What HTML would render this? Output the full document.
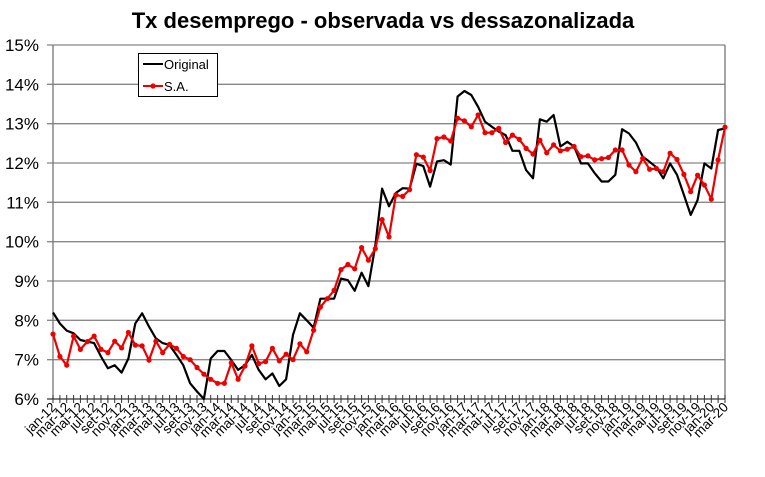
<!DOCTYPE html>
<html><head><meta charset="utf-8"><style>
html,body{margin:0;padding:0;background:#fff;}
svg{display:block;font-family:"Liberation Sans",Arial,sans-serif;}
</style></head><body>
<svg id="c" width="765" height="477" xmlns="http://www.w3.org/2000/svg"></svg>
<script>
var B=[8.2,7.92,7.74,7.67,7.5,7.46,7.42,7.08,6.78,6.86,6.67,7.03,7.92,8.18,7.84,7.54,7.42,7.37,7.12,6.86,
6.4,6.19,6.0,7.03,7.22,7.22,6.99,6.74,6.86,7.12,6.74,6.5,6.65,6.33,6.5,7.63,8.18,8.0,
7.81,
8.55,8.55,8.55,9.06,9.02,8.75,9.21,8.87,9.9,11.35,10.9,11.24,11.36,11.35,11.98,11.92,11.4,12.04,12.07,11.96,
13.69,13.83,13.73,13.43,13.05,12.92,12.8,12.71,12.31,12.31,11.82,11.61,13.11,13.05,13.22,12.42,12.54,12.42,11.99,11.99,11.74,11.53,11.53,11.7,12.86,12.75,12.52,12.16,12.03,11.89,11.61,11.99,11.7,11.19,10.68,11.06,11.99,11.86,12.84,12.88];
var R=[7.65,7.08,6.86,7.6,7.26,7.46,7.6,7.26,7.18,7.47,7.3,7.69,7.37,7.35,6.99,7.47,7.18,7.39,7.29,7.08,
7.0,6.8,6.63,6.5,6.4,6.4,6.92,6.5,6.84,7.35,6.9,6.95,7.29,6.97,7.14,7.0,
7.4,7.2,7.75,
8.34,8.55,8.76,9.29,9.42,9.31,9.85,9.53,9.82,10.56,10.12,11.19,11.15,11.32,12.21,12.15,11.81,12.62,12.66,12.56,
13.14,13.07,12.92,13.22,12.77,12.77,12.88,12.52,12.71,12.6,12.37,12.23,12.58,12.26,12.46,12.31,12.35,12.42,12.16,12.18,12.08,12.11,12.14,12.33,12.33,11.95,11.78,12.12,11.84,11.86,11.78,12.25,12.09,11.71,11.27,11.69,11.44,11.08,12.08,12.91];
var L=53,Rr=725,T=45,Bt=399,st=(Rr-L)/98;
function X(i){return L+st*i;}
function Y(v){return Bt-(v-6)*(Bt-T)/9;}
var s='';
s+='<text x="383" y="28" text-anchor="middle" font-size="22" font-weight="bold">Tx desemprego - observada vs dessazonalizada</text>';
for(var v=6;v<=15;v++){var y=Y(v).toFixed(1);
 if(v>6)s+='<line x1="'+(L-6)+'" y1="'+y+'" x2="'+Rr+'" y2="'+y+'" stroke="#888" stroke-width="1.3"/>';
 s+='<text x="39" y="'+(Y(v)+6)+'" text-anchor="end" font-size="17">'+v+'%</text>';}
s+='<line x1="'+L+'" y1="'+T+'" x2="'+L+'" y2="'+Bt+'" stroke="#777" stroke-width="1.3"/>';
s+='<line x1="'+Rr+'" y1="'+T+'" x2="'+Rr+'" y2="'+Bt+'" stroke="#777" stroke-width="1.3"/>';
s+='<line x1="'+(L-6)+'" y1="'+Bt+'" x2="'+Rr+'" y2="'+Bt+'" stroke="#333" stroke-width="1.3"/>';
var mn=['jan','mar','mai','jul','set','nov'];
for(var i=0;i<99;i++){var x=X(i).toFixed(1);
 s+='<line x1="'+x+'" y1="'+(Bt-4)+'" x2="'+x+'" y2="'+(Bt+4)+'" stroke="#333" stroke-width="1"/>';
 if(i%2==0){var yr=12+Math.floor(i/12),m=mn[(i%12)/2];
  s+='<text transform="translate('+(X(i)+4)+','+(Bt+9)+') rotate(-45)" text-anchor="end" font-size="13.5">'+m+'-'+yr+'</text>';}}
function pl(a){return a.map(function(v,i){return X(i).toFixed(1)+','+Y(v).toFixed(1);}).join(' ');}
s+='<polyline points="'+pl(B)+'" fill="none" stroke="#000" stroke-width="2.2" stroke-linejoin="round"/>';
s+='<polyline points="'+pl(R)+'" fill="none" stroke="#e00" stroke-width="2.2" stroke-linejoin="round"/>';
R.forEach(function(v,i){s+='<circle cx="'+X(i).toFixed(1)+'" cy="'+Y(v).toFixed(1)+'" r="2.6" fill="#e00"/>';});
s+='<rect x="138.5" y="53.5" width="79" height="43" fill="#fff" stroke="#000" stroke-width="1"/>';
s+='<line x1="143" y1="64" x2="163" y2="64" stroke="#000" stroke-width="2"/>';
s+='<text x="164" y="69" font-size="13">Original</text>';
s+='<line x1="143" y1="86" x2="163" y2="86" stroke="#e00" stroke-width="2"/><circle cx="153" cy="86" r="2.6" fill="#e00"/>';
s+='<text x="164" y="91" font-size="13">S.A.</text>';
document.getElementById('c').innerHTML=s;
</script>
</body></html>
